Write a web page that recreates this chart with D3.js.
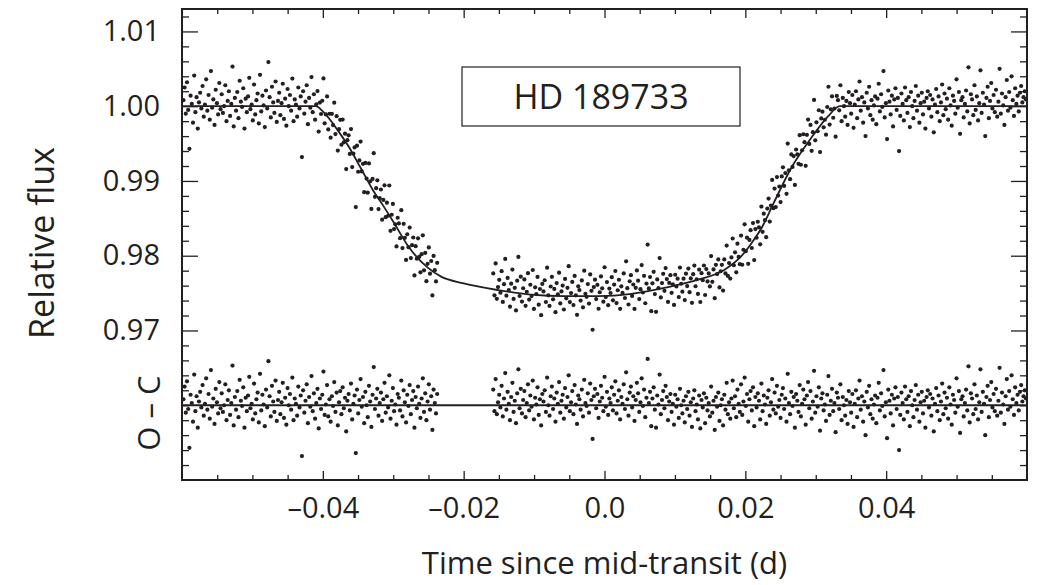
<!DOCTYPE html>
<html>
<head>
<meta charset="utf-8">
<script src="https://cdn.jsdelivr.net/npm/d3@7"></script>
<style>
  body { margin: 0; background: #fff; }
  text { font-family: "Open Sans", sans-serif; fill: #231f20; }
</style>
</head>
<body>
<div class="chart"></div>
<script>
// model curve (knots)
var modelT = [-0.060, -0.0410, -0.0399, -0.0379, -0.0364, -0.0346, -0.0329, -0.0315, -0.0299, -0.0279,
  -0.0251, -0.0232, -0.0200, -0.0151, -0.0104, -0.0057, -0.0009, 0.0038, 0.0085, 0.0133,
  0.0170, 0.0194, 0.0209, 0.0223, 0.0240, 0.0265, 0.0294, 0.0318, 0.0334, 0.060];
var modelF = [1.0000, 1.0000, 0.9992, 0.9968, 0.9947, 0.9917, 0.9888, 0.9868, 0.9844, 0.9813,
  0.9784, 0.9772, 0.9763, 0.9754, 0.9748, 0.9746, 0.9746, 0.9749, 0.9757, 0.9768,
  0.9781, 0.9799, 0.9817, 0.9837, 0.9870, 0.9917, 0.9958, 0.9987, 1.0000, 1.0000];

// two observing segments, fixed cadence (days)
var segStart = [-0.0598, -0.0158];
var cadence = 0.00017;

// O - C residuals, units of 1e-4 relative flux
var resid1 = [
  8, 25, -10, 32, -5, -57, 14, 3, -22, 41, -8, 12, -30, 5, 18, -3, 27, -14, 2, 36,
  -6, 15, -18, 47, -2, 9, -25, 22, 4, -11, 31, -4, 16, -9, 0, 28, -20, 7, 20, -13,
  3, 53, -27, 11, -6, 19, -16, 34, 6, -1, 24, -30, 10, -8, 13, 38, -4, 2, -19, 29,
  -11, 8, 17, -23, 42, -7, 14, 1, -28, 21, -3, 59, 12, -15, 26, 5, -9, 33, -21, 7,
  18, -12, 4, 30, -17, 10, -26, 23, 0, 15, -6, 37, -20, 9, 2, -14, 25, -3, 13, -68,
  20, -10, 6, 28, -24, 11, -2, 39, -8, 16, -18, 3, 22, -31, 9, -5, 14, 45, -13, 1,
  27, -15, 8, -22, 12, -1, 31, -9, 17, -27, 4, 19, -12, 24, -4, 10, -35, 6, 15, -7,
  29, -19, 2, 13, -64, 21, -11, 7, 35, -2, 11, -24, 18, 0, -16, 26, 5, -29, 14, 51,
  -5, 9, 22, -14, 3, 17, -21, 8, 30, -10, 12, -3, 40, -18, 6, 23, -8, 1, -26, 15,
  10, -7, 33, -15, 20, 4, -23, 14, -1, 27, -12, 7, 19, -30, 11, -4, 25, 2, -17, 9,
  36, -9, 16, -20, 5, 28, -6, 12, -33, 21, 3, -11, 15];
var resid2 = [
  21, -8, 35, -12, 4, 14, -3, 26, -15, 9, 43, -6, 18, 2, -20, 11, 30, -9, 6, -24,
  16, 48, -4, 22, -11, 7, 19, -16, 3, 28, -7, 13, -2, 33, -19, 10, 1, 24, -13, 8,
  -27, 15, 5, 20, -9, 37, 0, -14, 12, 25, -5, 9, -22, 17, 2, 31, -10, 6, 14, -18,
  23, -3, 11, 40, -8, 4, 19, -12, 27, 1, -25, 13, 8, -6, 21, -15, 34, 3, -1, 16,
  -10, 29, 7, -45, 12, 22, -4, 15, -17, 5, 26, 10, -8, 38, -2, 18, -13, 9, 3, 24,
  -7, 14, 32, -11, 6, 20, -19, 11, 2, 28, -5, 44, 8, -14, 17, 25, -3, 12, -21, 7,
  30, 16, -9, 4, 36, -1, 21, -16, 10, 62, 3, 18, -28, 9, 24, -6, -30, 13, 1, 41,
  -12, 7, 19, -4, 26, 11, -20, 5, 15, -9, 2, -26, 14, -2, 8, -17, 22, 0, -11, 6,
  -23, 12, -5, 18, -14, 4, -29, 9, 20, -8, 1, -19, 13, -31, 7, -3, 16, -24, 10, -7,
  3, -15, 25, -10, 6, -33, 11, -2, 17, -21, 0, 8, -27, 14, -6, 30, -12, 4, -18, 9,
  33, -4, 12, -16, 21, 2, -9, 28, -13, 5, 37, -1, 15, -22, 8, 19, -7, 24, -28, 11,
  -3, 16, 6, -19, 29, -8, 13, 1, -25, 10, 20, -14, 4, 35, -6, 17, -11, 26, -2, 7,
  -17, 14, 23, -5, 9, -22, 42, 3, -12, 18, -1, 11, -30, 15, 6, -9, 27, -15, 2, 21,
  8, -26, 13, 31, -4, 19, -18, 5, 46, -10, 12, -2, 24, -34, 9, 16, -7, 1, -21, 14,
  39, -13, 6, 22, -8, 3, -36, 17, 10, -5, 28, -20, 11, 0, -14, 7, -25, 19, 4, -10,
  15, -29, 2, 20, -16, 9, 33, -6, 12, -22, 5, -40, 18, -3, 26, -12, 8, -18, 1, 13,
  -24, 10, 30, -7, 16, -1, 47, -15, 4, -44, 21, 6, -11, 14, -27, 9, 24, -5, 11, -60,
  -13, 17, 3, -19, 25, 8, -9, 12, -28, 19, 0, -16, 7, 27, -6, 14, -22, 4, 18, -11,
  6, -30, 11, 20, -3, 15, -14, 9, -35, 2, 23, -8, 13, -20, 5, 29, -12, 17, -4, 10,
  -18, 24, 1, -26, 14, 7, -10, 36, -2, 19, -37, 8, 12, -15, 3, 21, -7, 52, -23, 16,
  9, -12, 28, -5, 13, -19, 4, 48, -9, 18, 2, -40, 11, 26, -16, 7, 31, -3, 15, -8,
  22, -14, 6, 50, -10, 17, 1, -25, 12, 35, -6, 19, -2, 40, 8, -13, 24, 3, 14, -7,
  18, 27, 5, 12, 20, 9];

var ocLevel = 0.96; // where the O - C panel sits on the flux axis

var xMajor = [-0.04, -0.02, 0, 0.02, 0.04];
var xTickLabels = ["–0.04", "–0.02", "0.0", "0.02", "0.04"];
var yMajor = [0.97, 0.98, 0.99, 1.00, 1.01];
var yTickLabels = ["0.97", "0.98", "0.99", "1.00", "1.01"];

var ink = "#231f20";
var margin = { top: 9, right: 15, bottom: 105, left: 182 };
var W = 1042, H = 585;

var x = d3.scaleLinear().domain([-0.06, 0.06]).range([margin.left, W - margin.right]);
var y = d3.scaleLinear().domain([0.95, 1.013]).range([H - margin.bottom, margin.top]);
var model = d3.scaleLinear().domain(modelT).range(modelF);

var xMinor = d3.range(-55, 56, 5).map(d => d / 1000).filter(d => !xMajor.some(m => Math.abs(m - d) < 1e-9));
var yMinor = d3.range(952, 1013, 2).map(d => d / 1000).filter(d => !yMajor.some(m => Math.abs(m - d) < 1e-9));

// observed = model + residual
var pts = [];
[resid1, resid2].forEach((arr, k) => {
  arr.forEach((r, i) => {
    var t = segStart[k] + i * cadence;
    pts.push({ t: t, r: r * 1e-4, f: model(t) + r * 1e-4 });
  });
});

var svg = d3.select('.chart').append('svg')
  .attr('width', W).attr('height', H);

svg.append('clipPath').attr('id', 'clip')
  .append('rect')
  .attr('x', margin.left).attr('y', margin.top)
  .attr('width', W - margin.left - margin.right)
  .attr('height', H - margin.top - margin.bottom);

var plot = svg.append('g').attr('clip-path', 'url(#clip)');

plot.selectAll('circle.obs').data(pts).enter().append('circle')
  .attr('class', 'obs')
  .attr('cx', d => x(d.t)).attr('cy', d => y(d.f))
  .attr('r', 2.1).attr('fill', ink);

plot.selectAll('circle.oc').data(pts).enter().append('circle')
  .attr('class', 'oc')
  .attr('cx', d => x(d.t)).attr('cy', d => y(ocLevel + d.r))
  .attr('r', 2.1).attr('fill', ink);

plot.append('path')
  .datum(modelT.map((t, i) => [t, modelF[i]]))
  .attr('d', d3.line().x(d => x(d[0])).y(d => y(d[1])).curve(d3.curveMonotoneX))
  .attr('fill', 'none').attr('stroke', ink).attr('stroke-width', 1.8);

plot.append('line')
  .attr('x1', x(-0.06)).attr('x2', x(0.06))
  .attr('y1', y(ocLevel)).attr('y2', y(ocLevel))
  .attr('stroke', ink).attr('stroke-width', 2);

// axes, ticks pointing inward on all four sides
function axisGroup(gen, tx, ty) {
  var g = svg.append('g').attr('transform', `translate(${tx},${ty})`).call(gen);
  g.select('.domain').remove();
  g.selectAll('line').attr('stroke', ink).attr('stroke-width', 1.3);
  g.selectAll('text').attr('font-size', 29).attr('fill', ink)
    .style('font-family', '"Open Sans", sans-serif');
  return g;
}
var x0 = margin.left, x1 = W - margin.right, y0 = margin.top, y1 = H - margin.bottom;

axisGroup(d3.axisBottom(x).tickValues(xMajor).tickSize(-9).tickPadding(17).tickFormat((d, i) => xTickLabels[i]), 0, y1);
axisGroup(d3.axisBottom(x).tickValues(xMinor).tickSize(-5).tickFormat(''), 0, y1);
axisGroup(d3.axisTop(x).tickValues(xMajor).tickSize(-9).tickFormat(''), 0, y0);
axisGroup(d3.axisTop(x).tickValues(xMinor).tickSize(-5).tickFormat(''), 0, y0);

axisGroup(d3.axisLeft(y).tickValues(yMajor).tickSize(-16).tickPadding(22).tickFormat((d, i) => yTickLabels[i]), x0, 0);
axisGroup(d3.axisLeft(y).tickValues(yMinor).tickSize(-7).tickFormat(''), x0, 0);
axisGroup(d3.axisRight(y).tickValues(yMajor).tickSize(-16).tickFormat(''), x1, 0);
axisGroup(d3.axisRight(y).tickValues(yMinor).tickSize(-7).tickFormat(''), x1, 0);

svg.append('rect')
  .attr('x', x0).attr('y', y0).attr('width', x1 - x0).attr('height', y1 - y0)
  .attr('fill', 'none').attr('stroke', ink).attr('stroke-width', 2);

// star label box
svg.append('rect')
  .attr('x', 462).attr('y', 67).attr('width', 278).attr('height', 59)
  .attr('fill', '#fff').attr('stroke', ink).attr('stroke-width', 1.2);
svg.append('text')
  .attr('x', 601).attr('y', 109).attr('text-anchor', 'middle')
  .attr('font-size', 34).text('HD 189733');

// axis titles
svg.append('text')
  .attr('x', (x0 + x1) / 2).attr('y', 574).attr('text-anchor', 'middle')
  .attr('font-size', 31).text('Time since mid-transit (d)');
svg.append('text')
  .attr('transform', 'translate(54,243) rotate(-90)').attr('text-anchor', 'middle')
  .attr('font-size', 34).text('Relative flux');
svg.append('text')
  .attr('transform', 'translate(160,413) rotate(-90)').attr('text-anchor', 'middle')
  .attr('font-size', 31).text('O – C');
</script>
</body>
</html>
